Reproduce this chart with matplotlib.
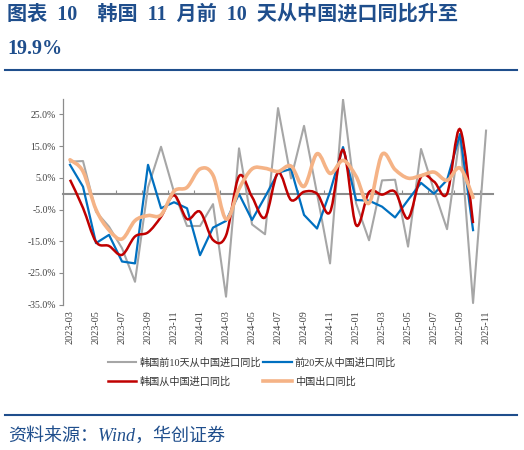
import numpy as np
import pandas as pd
import matplotlib
matplotlib.use("Agg")
import matplotlib.pyplot as plt
from matplotlib.path import Path
from matplotlib.patches import PathPatch
from matplotlib.lines import Line2D

# monthly categories 2023-03 .. 2025-11
months = list(pd.date_range("2023-03-01", periods=33, freq="MS").strftime("%Y-%m"))

# 韩国前10天从中国进口同比 (%)
kr_10d = [10.1, 10.3, -5.7, -10.4, -17.2, -27.8, 2.0, 14.8, 0.5, -10.2, -10.2,
          -3.3, -32.5, 14.3, -9.7, -12.8, 27.0, 4.8, 21.4, 0.0, -22.0, 29.7,
          -3.0, -14.7, 4.2, 4.4, -16.7, 14.1, 1.0, -11.2, 18.8, -34.5, 19.9]
# 前20天从中国进口同比 (%)
kr_20d = [9.1, 2.2, -15.6, -13.0, -21.4, -22.0, 9.1, -4.6, -2.7, -4.6, -19.4,
          -10.7, -8.6, -0.1, -8.3, -1.0, 6.6, 7.8, -6.7, -11.0, 0.6, 14.7,
          -2.0, -2.2, -4.1, -7.5, -2.0, 3.4, 0.0, 4.3, 18.8, -11.5]
# 韩国从中国进口同比 (%)
kr_imp = [4.4, -4.5, -15.2, -16.5, -19.3, -13.5, -12.2, -7.3, -0.5, -8.0, -5.7,
          -14.6, -13.2, 5.5, -1.0, -7.5, 6.6, -2.0, 0.6, 0.0, -5.8, 13.8,
          -9.9, 0.5, -0.3, 0.6, -7.8, 5.3, 3.8, 0.0, 20.3, -9.3]
# 中国出口同比 (%)
cn_exp = [10.7, 7.0, -5.0, -11.5, -14.3, -8.5, -6.9, -6.7, 0.8, 2.0, 7.8,
          5.8, -8.0, 1.5, 7.8, 8.0, 7.0, 8.7, 2.3, 12.6, 6.4, 10.5,
          5.5, -3.0, 12.4, 7.6, 4.9, 5.7, 6.8, 4.2, 8.1, -1.2]

names = ["韩国前10天从中国进口同比", "前20天从中国进口同比", "韩国从中国进口同比", "中国出口同比"]
colors = ["#A6A6A6", "#0070C0", "#C00000", "#F5B386"]
widths = [1.5, 1.6, 1.8, 2.6]

navy = "#1F4E8C"
serif_cjk = ["Liberation Serif", "Noto Sans CJK SC"]


def smooth_path(x, y):
    # excel-like smoothed line: bezier through every point
    pts = np.column_stack([x, y]).astype(float)
    n = len(pts)
    verts = [pts[0]]
    codes = [Path.MOVETO]
    for i in range(n - 1):
        p0 = pts[i - 1] if i > 0 else pts[i]
        p1 = pts[i]
        p2 = pts[i + 1]
        p3 = pts[i + 2] if i + 2 < n else pts[i + 1]
        verts += [p1 + (p2 - p0) / 6, p2 - (p3 - p1) / 6, p2]
        codes += [Path.CURVE4] * 3
    return Path(verts, codes)


fig = plt.figure(figsize=(5.24, 4.5), dpi=100)

fig.text(0.014, 0.967, "图表  10　韩国  11  月前  10  天从中国进口同比升至",
         family=serif_cjk, weight="bold", fontsize=14.5, color=navy, va="center")
fig.text(0.014, 0.891, "19.9%", family=serif_cjk, weight="bold",
         fontsize=14.5, color=navy, va="center")
fig.add_artist(Line2D([0.0095, 0.9866], [0.8444, 0.8444], color=navy, lw=1.5))
fig.add_artist(Line2D([0.0095, 0.9866], [0.0778, 0.0778], color=navy, lw=1.5))
fig.text(0.015, 0.031, "资料来源：Wind，华创证券", family=serif_cjk, style="italic",
         fontsize=13, color=navy, va="center")

ax = fig.add_axes([0.1202, 0.3231, 0.8198, 0.4578])
x = np.arange(len(months))

ax.plot(x, kr_10d, color=colors[0], lw=widths[0], zorder=2)
ax.plot(x[:len(kr_20d)], kr_20d, color=colors[1], lw=widths[1], zorder=3)
ax.add_patch(PathPatch(smooth_path(x[:len(kr_imp)], kr_imp), fill=False,
                       edgecolor=colors[2], lw=widths[2], zorder=4))
ax.add_patch(PathPatch(smooth_path(x[:len(cn_exp)], cn_exp), fill=False,
                       edgecolor=colors[3], lw=widths[3], zorder=5,
                       capstyle="round", joinstyle="round"))

ax.set_xlim(-0.54, 32.5)
ax.set_ylim(-35, 30)
yt = np.arange(-35, 26, 10)
ax.set_yticks(yt, [f"{v:.1f}%" for v in yt])

for s in ["top", "right"]:
    ax.spines[s].set_visible(False)
ax.spines["left"].set_color("#8C8C8C")
ax.spines["left"].set_linewidth(0.9)
ax.spines["bottom"].set_position(("data", 0))
ax.spines["bottom"].set_color("#8C8C8C")
ax.spines["bottom"].set_linewidth(1.5)
ax.spines["bottom"].set_zorder(1)

ax.set_xticks(np.arange(1.5, 32, 2))
ax.tick_params(axis="x", direction="in", length=3, width=0.8, color="#8C8C8C",
               labelbottom=False)
ax.tick_params(axis="y", direction="out", length=3, width=0.8, color="#8C8C8C",
               labelsize=7, labelcolor="#404040", pad=2)
for t in ax.get_yticklabels():
    t.set_family(serif_cjk)

sec = ax.secondary_xaxis(0)
sec.set_xticks(x[::2], months[::2], rotation=90)
sec.tick_params(length=0, pad=4, labelsize=7.3, labelcolor="#404040")
sec.spines["bottom"].set_visible(False)
for t in sec.get_xticklabels():
    t.set_family(serif_cjk)

handles = [Line2D([], [], color=c, lw=w) for c, w in zip(colors, widths)]
# ncol=2 fills column-wise, so reorder for rows: grey|blue, red|orange
order = [0, 2, 1, 3]
fig.legend([handles[i] for i in order], [names[i] for i in order], ncol=2,
           loc="upper left", bbox_to_anchor=(0.206, 0.2056), frameon=False,
           borderpad=0, borderaxespad=0, handlelength=2.8, handletextpad=0.3,
           columnspacing=0.25, labelspacing=0.9,
           prop={"family": serif_cjk, "size": 7.3}, labelcolor="#333333")

fig.savefig("out.png", dpi=100)
